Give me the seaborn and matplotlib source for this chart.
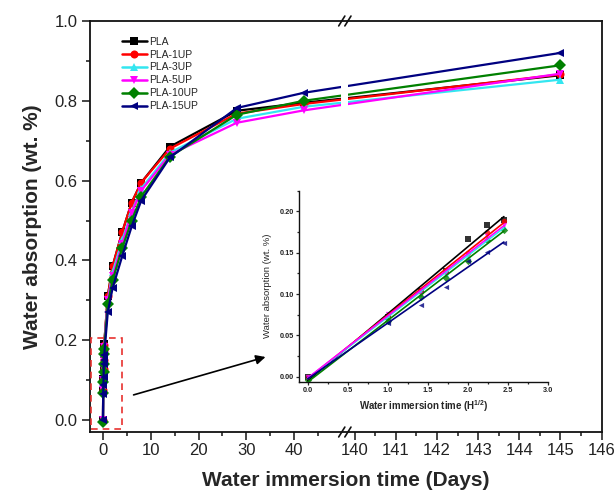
import numpy as np
import matplotlib
matplotlib.use("Agg")
import matplotlib.pyplot as plt
import seaborn as sns
from matplotlib.ticker import FixedLocator, MultipleLocator
from matplotlib.patches import Rectangle
from matplotlib.lines import Line2D

# ---------------- data ----------------
samples = ["PLA", "PLA-1UP", "PLA-3UP", "PLA-5UP", "PLA-10UP", "PLA-15UP"]
colors = ["#000000", "#FF0000", "#33E6F0", "#FF00FF", "#008000", "#000080"]
markers = ["s", "o", "^", "v", "D", "<"]

# short-term (hours) data, also shown in the inset versus sqrt(hours)
hours = [0, 1, 2, 3, 4, 5, 6]
sqrt_hours = [0.0, 1.0, 1.414, 1.732, 2.0, 2.236, 2.449]
short_pla = [0.000, 0.072, 0.104, 0.128, 0.166, 0.184, 0.190]
short_1up = [0.000, 0.075, 0.103, 0.127, 0.150, 0.175, 0.188]
short_3up = [0.000, 0.072, 0.100, 0.124, 0.146, 0.168, 0.181]
short_5up = [0.000, 0.076, 0.100, 0.125, 0.149, 0.170, 0.184]
short_10up = [-0.004, 0.068, 0.096, 0.120, 0.140, 0.165, 0.178]
short_15up = [0.000, 0.065, 0.087, 0.109, 0.140, 0.151, 0.162]

# long-term (days) data
days = [1, 2, 4, 6, 8, 14, 28, 42, 145]
long_pla = [0.310, 0.385, 0.470, 0.545, 0.595, 0.685, 0.775, 0.795, 0.864]
long_1up = [0.310, 0.385, 0.470, 0.545, 0.595, 0.680, 0.768, 0.792, 0.866]
long_3up = [0.300, 0.370, 0.450, 0.522, 0.580, 0.670, 0.755, 0.785, 0.853]
long_5up = [0.300, 0.360, 0.440, 0.520, 0.575, 0.665, 0.745, 0.776, 0.868]
long_10up = [0.290, 0.350, 0.430, 0.500, 0.560, 0.660, 0.765, 0.800, 0.889]
long_15up = [0.270, 0.330, 0.410, 0.485, 0.550, 0.658, 0.782, 0.820, 0.920]

short_all = [short_pla, short_1up, short_3up, short_5up, short_10up, short_15up]
long_all = [long_pla, long_1up, long_3up, long_5up, long_10up, long_15up]

x_major = [0, 10, 20, 30, 40, 140, 141, 142, 143, 144, 145, 146]
x_minor = [5, 15, 25, 35, 45, 140.5, 141.5, 142.5, 143.5, 144.5, 145.5]

# ---------------- style ----------------
sns.set_style("ticks")
plt.rcParams["font.family"] = ["Liberation Sans", "DejaVu Sans"]
plt.rcParams["mathtext.fontset"] = "custom"
plt.rcParams["mathtext.rm"] = "Liberation Sans"
plt.rcParams["mathtext.bf"] = "Liberation Sans:bold"

fig = plt.figure(figsize=(6.16, 4.96), dpi=100)
ax = fig.add_axes([0.146, 0.129, 0.8307, 0.8287])

# broken x axis via piecewise-linear scale
B1, B2, K = 50.6, 139.76, 8.61


def fwd(x):
    x = np.asarray(x, dtype=float)
    return np.where(x <= B1, x, np.where(x >= B2, B1 + (x - B2) * K, B1))


def inv(y):
    y = np.asarray(y, dtype=float)
    return np.where(y <= B1, y, B2 + (y - B1) / K)


ax.set_xscale("function", functions=(fwd, inv))

for name, c, m, s_vals, l_vals in zip(samples, colors, markers, short_all, long_all):
    xs = [h / 24.0 for h in hours] + days
    ys = list(s_vals) + list(l_vals)
    sns.lineplot(x=xs, y=ys, ax=ax, color=c, marker=m, markersize=5.8,
                 markeredgewidth=0, linewidth=1.6, label=name, zorder=2)

ax.set_xlim(-2.73, 146.0)
ax.set_ylim(-0.03, 1.0)
ax.xaxis.set_major_locator(FixedLocator(x_major))
ax.xaxis.set_minor_locator(FixedLocator(x_minor))
ax.set_xticklabels([str(v) for v in x_major])
ax.yaxis.set_major_locator(MultipleLocator(0.2))
ax.yaxis.set_minor_locator(MultipleLocator(0.1))
ax.yaxis.set_major_formatter(matplotlib.ticker.FormatStrFormatter("%.1f"))

ax.tick_params(axis="both", which="major", direction="out", length=6, width=1.2,
               labelsize=12, labelcolor="#222222", pad=2)
ax.tick_params(axis="both", which="minor", direction="out", length=3, width=1.2)
ax.tick_params(axis="y", which="major", pad=3)
ax.tick_params(top=False, right=False, which="both")
for sp in ax.spines.values():
    sp.set_linewidth(1.3)
    sp.set_color("#111111")

ax.set_xlabel("Water immersion time (Days)", fontsize=15, fontweight="bold", labelpad=9)
ax.set_ylabel("Water absorption (wt. %)", fontsize=15, fontweight="bold", labelpad=9)

# break gap and // marks
f = (B1 - (-2.73)) / (float(fwd(146.0)) - (-2.73))
ax.add_patch(Rectangle((f - 0.007, 0.006), 0.014, 0.988, transform=ax.transAxes,
                       facecolor="white", edgecolor="none", zorder=3))
for yb in (0.0, 1.0):
    for dx in (-0.006, 0.006):
        ax.plot([f + dx - 0.006, f + dx + 0.006], [yb - 0.012, yb + 0.012],
                transform=ax.transAxes, color="#111111", lw=1.2, clip_on=False, zorder=5)

# legend
handles = [Line2D([], [], color=c, marker=m, markersize=5.8, markeredgewidth=0, lw=1.8)
           for c, m in zip(colors, markers)]
ax.legend(handles, samples, loc="upper left", bbox_to_anchor=(0.062, 0.962),
          frameon=False, fontsize=7.5, handlelength=2.4, handletextpad=0.2,
          labelspacing=0.28, borderpad=0, borderaxespad=0)

# dashed zoom box and arrow
ax.add_patch(Rectangle((-2.6, -0.023), 6.6, 0.228, fill=False, edgecolor="#E8312F",
                       linestyle=(0, (4, 3)), linewidth=1.2, zorder=4))
ax.annotate("", xy=(34.0, 0.158), xytext=(6.4, 0.063),
            arrowprops=dict(arrowstyle="-|>", color="black", lw=1.2,
                            mutation_scale=14, shrinkA=0, shrinkB=0))

# ---------------- inset ----------------
axin = fig.add_axes([0.4859, 0.2304, 0.4037, 0.3851])
for name, c, m, s_vals in zip(samples, colors, markers, short_all):
    sns.regplot(x=sqrt_hours, y=s_vals, ax=axin, ci=None, color=c, marker=m,
                scatter_kws={"s": 14, "linewidths": 0},
                line_kws={"lw": 1.2})
axin.set_xlim(-0.105, 3.0)
axin.set_ylim(-0.006, 0.225)
axin.xaxis.set_major_locator(MultipleLocator(0.5))
axin.xaxis.set_minor_locator(MultipleLocator(0.25))
axin.yaxis.set_major_locator(MultipleLocator(0.05))
axin.yaxis.set_minor_locator(MultipleLocator(0.025))
axin.xaxis.set_major_formatter(matplotlib.ticker.FormatStrFormatter("%.1f"))
axin.yaxis.set_major_formatter(matplotlib.ticker.FormatStrFormatter("%.2f"))
axin.tick_params(axis="both", which="major", direction="out", length=2.5, width=0.9,
                 labelsize=5.3, labelcolor="#222222", pad=1.5)
axin.tick_params(axis="both", which="minor", direction="out", length=1.5, width=0.9)
for lbl in axin.get_xticklabels() + axin.get_yticklabels():
    lbl.set_fontweight("bold")
axin.spines["top"].set_visible(False)
axin.spines["right"].set_visible(False)
for s in ("left", "bottom"):
    axin.spines[s].set_linewidth(1.0)
    axin.spines[s].set_color("#111111")
axin.set_facecolor("none")
axin.set_xlabel(r"Water immersion time (H$^{\mathbf{1/2}}$)", fontsize=7,
                fontweight="bold", labelpad=3)
axin.set_ylabel("Water absorption (wt. %)", fontsize=6.8, labelpad=5)

fig.savefig("out.png", dpi=100)
